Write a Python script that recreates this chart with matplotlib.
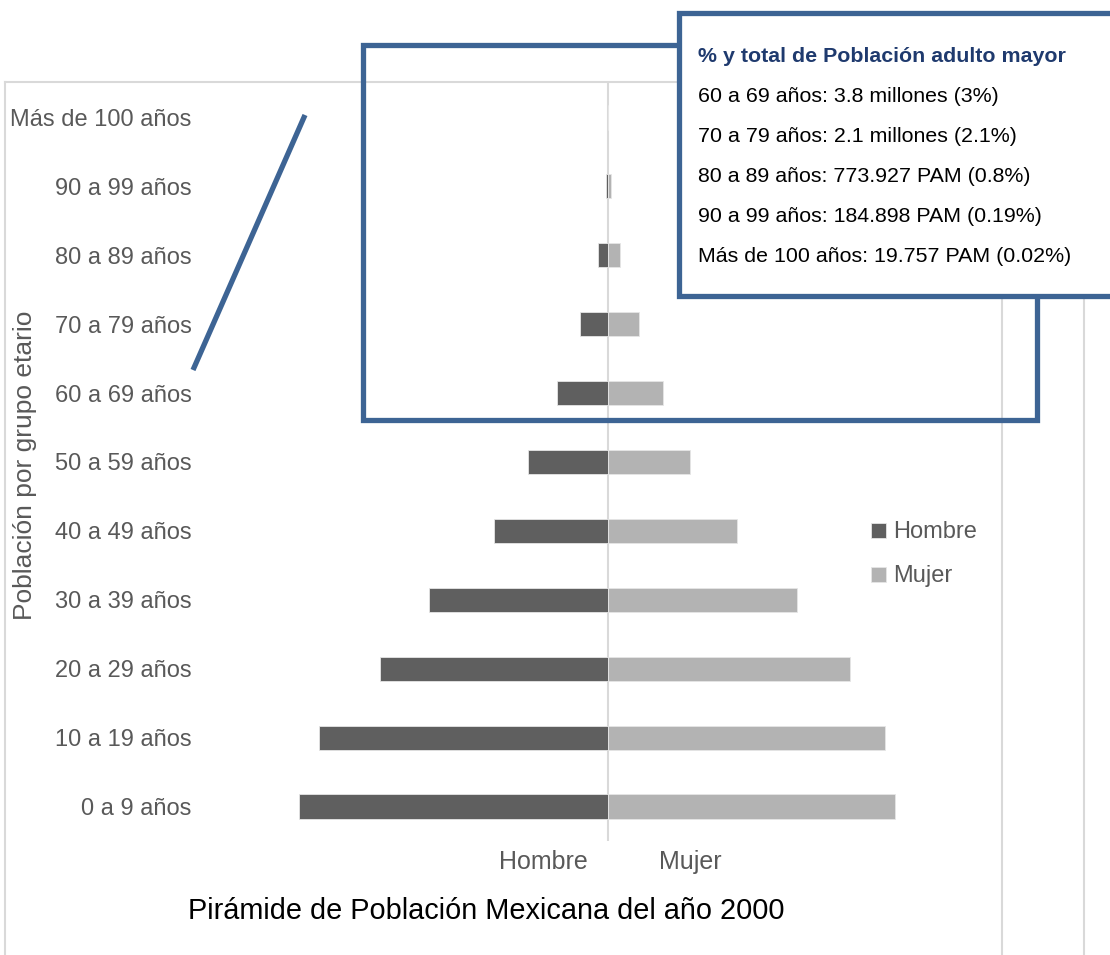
import matplotlib
matplotlib.use('Agg')
import matplotlib.pyplot as plt
from matplotlib.patches import Rectangle

plt.rcParams['font.family'] = ['Liberation Sans', 'DejaVu Sans']

# poblacion por grupo de edad, millones de personas
GRUPOS = ['0 a 9 años', '10 a 19 años', '20 a 29 años', '30 a 39 años', '40 a 49 años',
          '50 a 59 años', '60 a 69 años', '70 a 79 años', '80 a 89 años', '90 a 99 años',
          'Más de 100 años']
HOMBRE = [11.04, 10.32, 8.14, 6.39, 4.07, 2.86, 1.83, 1.00, 0.36, 0.080, 0.008]
MUJER = [10.25, 9.89, 8.64, 6.75, 4.61, 2.93, 1.97, 1.10, 0.414, 0.105, 0.012]

CAJA_TITULO = '% y total de Población adulto mayor'
CAJA_LINEAS = ['60 a 69 años: 3.8 millones (3%)',
               '70 a 79 años: 2.1 millones (2.1%)',
               '80 a 89 años: 773.927 PAM (0.8%)',
               '90 a 99 años: 184.898 PAM (0.19%)',
               'Más de 100 años: 19.757 PAM (0.02%)']

C_H, C_M = '#5f5f5f', '#b3b3b3'
C_TXT, C_GRID = '#595959', '#d9d9d9'
C_AZUL, C_NAVY = '#3d6494', '#1f3a6e'

W, H = 1110, 955
fig = plt.figure(figsize=(W / 100, H / 100), dpi=100)

# capa de adornos en pixeles (marco, lineas, anotaciones)
ov = fig.add_axes([0, 0, 1, 1], zorder=0)
ov.set_xlim(0, W); ov.set_ylim(H, 0); ov.set_axis_off()
ov.plot([5, 5], [82, H], color=C_GRID, lw=1.5)
ov.plot([5, W], [82, 82], color=C_GRID, lw=1.5)
for xx in (1002, 1084):
    ov.plot([xx, xx], [82, H], color=C_GRID, lw=1.5)

# grafica principal
ax = fig.add_axes([200 / W, 1 - 841 / H, 802 / W, 758 / H], zorder=1)
ax.patch.set_alpha(0)
y = range(len(GRUPOS))
ax.barh(y, [-v for v in HOMBRE], height=0.35, color=C_H, edgecolor='#e6e6e6', lw=0.6, label='Hombre')
ax.barh(y, MUJER, height=0.35, color=C_M, edgecolor='#e6e6e6', lw=0.6, label='Mujer')
ax.axvline(0, color=C_GRID, lw=1.5, zorder=0)
ax.set_xlim(-14.57, 14.07)
ax.set_ylim(-0.5, 10.5)
ax.set_yticks(list(y))
ax.set_yticklabels(GRUPOS, fontsize=17, color=C_TXT)
ax.tick_params(axis='y', length=0, pad=6)
ax.set_xticks([])
for s in ax.spines.values():
    s.set_visible(False)

leg = ax.legend(loc='upper left', bbox_to_anchor=(862 / W, 1 - 512 / H), bbox_transform=fig.transFigure,
                frameon=False, fontsize=17, handlelength=0.6, handleheight=0.6, handletextpad=0.3,
                labelspacing=0.93, borderaxespad=0)
for t in leg.get_texts():
    t.set_color(C_TXT)

# textos en pixeles
top = fig.add_axes([0, 0, 1, 1], zorder=2)
top.set_xlim(0, W); top.set_ylim(H, 0); top.set_axis_off()
top.text(25, 465, 'Población por grupo etario', rotation=90, ha='center', va='center',
         fontsize=19, color=C_TXT)
top.text(543, 862, 'Hombre', ha='center', va='center', fontsize=18, color=C_TXT)
top.text(690, 862, 'Mujer', ha='center', va='center', fontsize=18, color=C_TXT)
top.text(486, 911, 'Pirámide de Población Mexicana del año 2000', ha='center', va='center',
         fontsize=20.8, color='black')

# recuadro de adultos mayores y su nota
top.add_patch(Rectangle((363, 45), 674, 375, fill=False, ec=C_AZUL, lw=3.8, joinstyle='miter'))
top.plot([305, 193], [115, 370], color=C_AZUL, lw=3.8, solid_capstyle='butt')
top.add_patch(Rectangle((679, 13), 460, 283, fc='white', ec=C_AZUL, lw=3.8, joinstyle='miter'))
top.text(698, 56, CAJA_TITULO, ha='left', va='center', fontsize=15.4, fontweight='bold', color=C_NAVY)
for i, s in enumerate(CAJA_LINEAS):
    top.text(698, 96 + i * 40.2, s, ha='left', va='center', fontsize=15.4, color='black')

fig.savefig('out.png', dpi=100)
